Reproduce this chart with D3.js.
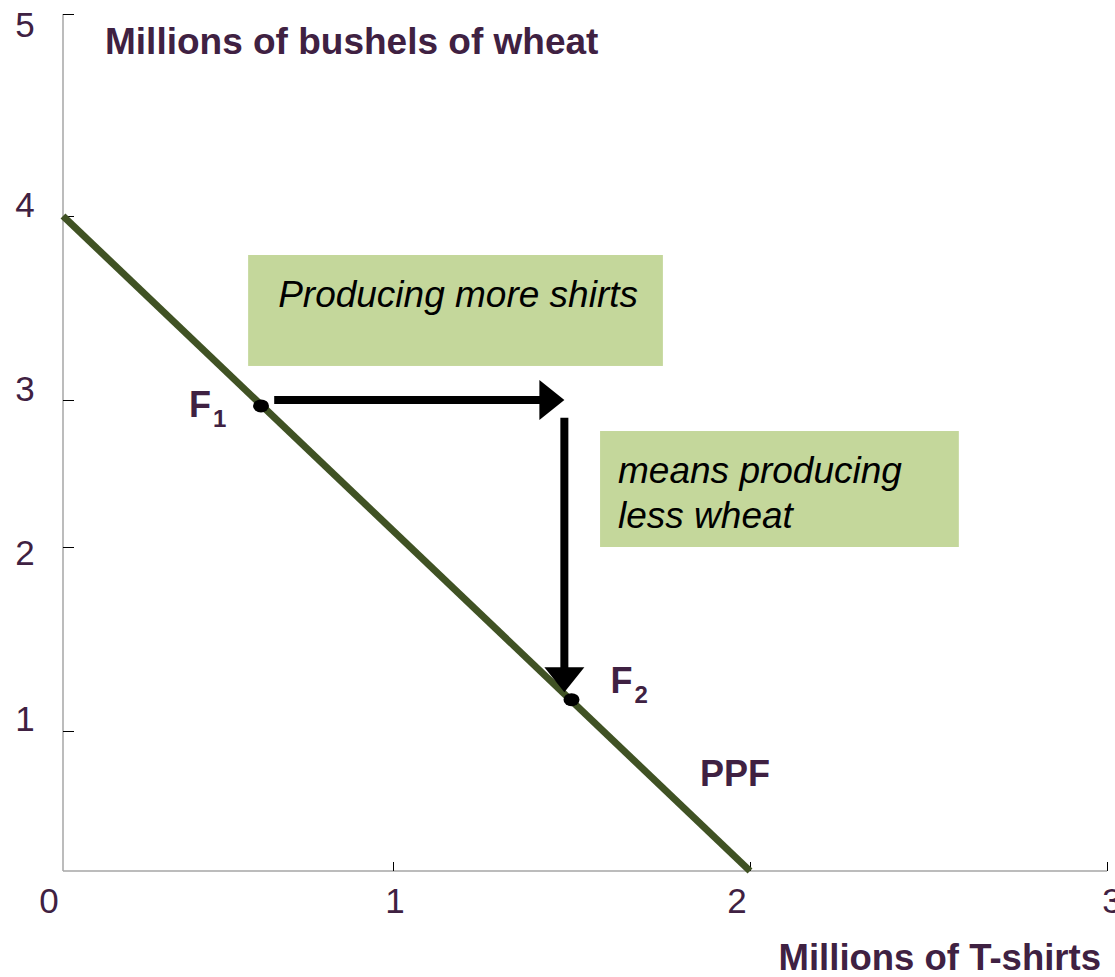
<!DOCTYPE html>
<html>
<head>
<meta charset="utf-8">
<script src="https://cdn.jsdelivr.net/npm/d3@7"></script>
<style>
  html, body { margin: 0; padding: 0; background: #fff; }
  svg { display: block; font-family: "Liberation Sans", Arial, sans-serif; }
</style>
</head>
<body>
<svg id="chart" width="1115" height="977"></svg>
<script>
// ---- data ----
const xTickValues = [0, 1, 2, 3];
const xTickLabels = ["0", "1", "2", "3"];
const yTickValues = [1, 2, 3, 4, 5];
const yTickLabels = ["1", "2", "3", "4", "5"];
const ppfX = [0, 2];
const ppfY = [4, 0];
const pointNames = ["F1", "F2"];
const pointX = [0.6, 1.5];
const pointY = [2.96, 1.17];
const arrowFromX = [0.64, 1.48];
const arrowFromY = [3, 2.88];
const arrowToX = [1.48, 1.48];
const arrowToY = [3, 1.21];
const boxTexts = [["Producing more shirts"], ["means producing", "less wheat"]];
const boxX0 = [0.561, 1.58];
const boxX1 = [1.756, 2.585];
const boxY0 = [3.788, 2.789];
const boxY1 = [3.185, 2.0];
const yTitle = "Millions of bushels of wheat";
const xTitle = "Millions of T-shirts";
const curveLabel = "PPF";
const curveLabelX = 1.86;
const curveLabelY = 0.607;

// ---- layout / style ----
const purple = "#3f2142";
const svg = d3.select("#chart");
const x = d3.scaleLinear().domain([0, 1, 2, 3]).range([63, 393, 750, 1107]);
const y = d3.scaleLinear().domain([0, 1, 2, 3, 4, 5]).range([871, 731, 547, 400, 216, 14]);
const yLabelNudge = [-13, 5, -12, -12, 10];
const xLabelNudge = [-14, 2, -13, 5];

// axes lines
svg.append("line").attr("x1", x(0)).attr("x2", x(0)).attr("y1", y(5)).attr("y2", y(0))
  .attr("stroke", "#a6a6a6").attr("stroke-width", 1.5);
svg.append("line").attr("x1", x(0)).attr("x2", x(3)).attr("y1", y(0)).attr("y2", y(0))
  .attr("stroke", "#a6a6a6").attr("stroke-width", 1.5);

// y ticks
const yAxis = d3.axisRight(y).tickValues(yTickValues).tickSize(11).tickFormat("");
const gy = svg.append("g").attr("transform", `translate(${x(0)},0)`).call(yAxis);
gy.select(".domain").remove();
gy.selectAll(".tick line").attr("stroke", "#000").attr("stroke-width", 1);
svg.selectAll(".ylab").data(yTickValues).enter().append("text")
  .attr("x", 25).attr("y", (d, i) => y(d) + yLabelNudge[i])
  .attr("dy", "0.36em").attr("text-anchor", "middle")
  .attr("font-size", 35).attr("fill", purple)
  .text((d, i) => yTickLabels[i]);

// x ticks
const xAxis = d3.axisTop(x).tickValues(xTickValues.filter(v => v > 0)).tickSize(9).tickFormat("");
const gx = svg.append("g").attr("transform", `translate(0,${y(0)})`).call(xAxis);
gx.select(".domain").remove();
gx.selectAll(".tick line").attr("stroke", "#000").attr("stroke-width", 1);
svg.selectAll(".xlab").data(xTickValues).enter().append("text")
  .attr("x", (d, i) => x(d) + xLabelNudge[i]).attr("y", 913)
  .attr("text-anchor", "middle")
  .attr("font-size", 35).attr("fill", purple)
  .text((d, i) => xTickLabels[i]);

// titles
svg.append("text").attr("x", 105).attr("y", 54)
  .attr("font-size", 37).attr("font-weight", "bold").attr("fill", purple).text(yTitle);
svg.append("text").attr("x", 1101).attr("y", 970).attr("text-anchor", "end")
  .attr("font-size", 36.5).attr("font-weight", "bold").attr("fill", purple).text(xTitle);

// boxes
boxTexts.forEach((lines, i) => {
  svg.append("rect")
    .attr("x", x(boxX0[i])).attr("y", y(boxY0[i]))
    .attr("width", x(boxX1[i]) - x(boxX0[i]))
    .attr("height", y(boxY1[i]) - y(boxY0[i]))
    .attr("fill", "#c4d79b");
  const t = svg.append("text")
    .attr("x", x(boxX0[i]) + (i === 0 ? 30 : 18))
    .attr("y", y(boxY0[i]) + 52)
    .attr("font-size", 37).attr("font-style", "italic").attr("fill", "#000");
  lines.forEach((ln, j) => {
    t.append("tspan").attr("x", x(boxX0[i]) + (i === 0 ? 30 : 18))
      .attr("dy", j === 0 ? 0 : 45).text(ln);
  });
});

// PPF line
const ppf = ppfX.map((v, i) => [v, ppfY[i]]);
svg.append("path").datum(ppf)
  .attr("d", d3.line().x(d => x(d[0])).y(d => y(d[1])))
  .attr("fill", "none").attr("stroke", "#405224").attr("stroke-width", 7);

// arrows
arrowFromX.forEach((_, i) => {
  const x0 = x(arrowFromX[i]), y0 = y(arrowFromY[i]);
  const x1 = x(arrowToX[i]), y1 = y(arrowToY[i]);
  const len = Math.hypot(x1 - x0, y1 - y0);
  const ux = (x1 - x0) / len, uy = (y1 - y0) / len;
  const headL = 25, headW = 20;
  const bx = x1 - ux * headL, by = y1 - uy * headL;
  svg.append("line").attr("x1", x0).attr("y1", y0).attr("x2", bx + ux).attr("y2", by + uy)
    .attr("stroke", "#000").attr("stroke-width", 8);
  svg.append("path")
    .attr("d", `M${x1},${y1}L${bx - uy * headW},${by + ux * headW}L${bx + uy * headW},${by - ux * headW}Z`)
    .attr("fill", "#000");
});

// points
svg.selectAll(".pt").data(pointX).enter().append("ellipse")
  .attr("cx", (d, i) => x(pointX[i])).attr("cy", (d, i) => y(pointY[i]))
  .attr("rx", 8).attr("ry", 6.5).attr("fill", "#000");

// point labels
const labelOffsets = [[-72, 11], [39, -7]];
pointNames.forEach((name, i) => {
  const t = svg.append("text")
    .attr("x", x(pointX[i]) + labelOffsets[i][0])
    .attr("y", y(pointY[i]) + labelOffsets[i][1])
    .attr("font-size", 36).attr("font-weight", "bold").attr("fill", purple);
  t.append("tspan").text(name[0]);
  t.append("tspan").attr("font-size", 24).attr("dy", 10).attr("dx", 2).text(name.slice(1));
});

// curve label
svg.append("text").attr("x", x(curveLabelX)).attr("y", y(curveLabelY))
  .attr("font-size", 36).attr("font-weight", "bold").attr("fill", purple).text(curveLabel);
</script>
</body>
</html>
